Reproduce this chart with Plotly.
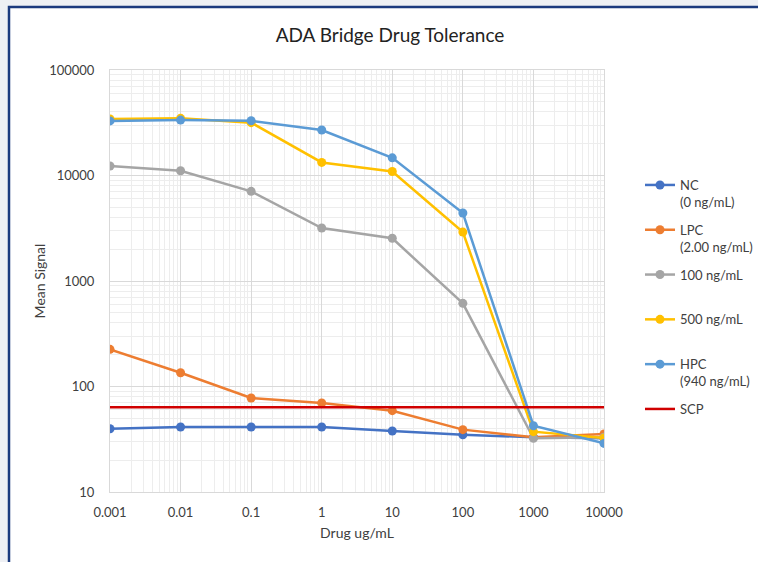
import plotly.graph_objects as go

# Drug concentrations (ug/mL)
drug_conc = [0.001, 0.01, 0.1, 1, 10, 100, 1000, 10000]

# Mean signal per positive-control level
nc_signal = [39.8, 41.3, 41.3, 41.3, 37.9, 34.9, 33.0, 32.3]
lpc_signal = [225, 135, 77.8, 69.8, 59, 39, 33, 35.5]
pc100_signal = [12300, 11100, 7080, 3180, 2540, 614, 32.3, 33]
pc500_signal = [34400, 34800, 31700, 13300, 10900, 2910, 37.3, 32.5]
hpc_signal = [32900, 33500, 33000, 27000, 14700, 4410, 42.5, 28.9]

# Screening cut point
scp_value = 63.5

series_names = ["NC<br>(0 ng/mL)", "LPC<br>(2.00 ng/mL)", "100 ng/mL<br> ",
                "500 ng/mL<br> ", "HPC<br>(940 ng/mL)"]
series_values = [nc_signal, lpc_signal, pc100_signal, pc500_signal, hpc_signal]
series_colors = ["#4472C4", "#ED7D31", "#A5A5A5", "#FFC000", "#5B9BD5"]

x_tickvals = [0.001, 0.01, 0.1, 1, 10, 100, 1000, 10000]
x_ticktext = ["0.001", "0.01", "0.1", "1", "10", "100", "1000", "10000"]
y_tickvals = [10, 100, 1000, 10000, 100000]
y_ticktext = ["10", "100", "1000", "10000", "100000"]

FONT = "Lato, 'Open Sans', sans-serif"
TEXT = "#404040"

fig = go.Figure()

for i, (name, vals, color) in enumerate(zip(series_names, series_values, series_colors)):
    fig.add_trace(go.Scatter(
        x=drug_conc, y=vals, name=name, mode="lines+markers",
        line=dict(color=color, width=2.5),
        marker=dict(color=color, size=9),
        legendgroup=f"g{i}",
    ))

fig.add_trace(go.Scatter(
    x=[drug_conc[0], drug_conc[-1]], y=[scp_value, scp_value],
    name="SCP<br> ", mode="lines",
    line=dict(color="#D00000", width=2.5),
    legendgroup="g5",
))

# Outer frame: white panel with a dark navy edge on a pale backdrop
fig.add_shape(type="rect", xref="paper", yref="paper",
              x0=-101 / 494, x1=1.5, y0=-0.3, y1=1 + 63 / 422,
              fillcolor="white", line=dict(color="#1B3A7E", width=2.5),
              layer="below")

fig.update_layout(
    width=758, height=562,
    margin=dict(l=110, r=154, t=70, b=70, autoexpand=False),
    paper_bgcolor="#EEF0F4",
    plot_bgcolor="white",
    font=dict(family=FONT, color=TEXT, size=12),
    title=dict(text="ADA Bridge Drug Tolerance", x=390 / 758, xanchor="center",
               y=1 - 35 / 562, yanchor="middle",
               font=dict(size=19, color="#222222", family=FONT)),
    showlegend=True,
    legend=dict(xref="container", yref="container",
                x=640 / 758, y=1 - 170 / 562, xanchor="left", yanchor="top",
                valign="top", tracegroupgap=8,
                font=dict(size=13, color=TEXT, family=FONT),
                bgcolor="rgba(0,0,0,0)"),
    xaxis=dict(
        type="log", range=[-3, 4],
        tickvals=x_tickvals, ticktext=x_ticktext,
        showgrid=True, gridcolor="#D9D9D9", gridwidth=1,
        minor=dict(dtick="D1", showgrid=True, gridcolor="#EDEDED", gridwidth=1),
        showline=True, linecolor="#D9D9D9", linewidth=1, mirror=True,
        ticks="", zeroline=False, ticklabelstandoff=8,
        tickfont=dict(size=13, color=TEXT),
        title=dict(text="Drug ug/mL", font=dict(size=14, color=TEXT), standoff=9),
    ),
    yaxis=dict(
        type="log", range=[1, 5],
        tickvals=y_tickvals, ticktext=y_ticktext,
        showgrid=True, gridcolor="#D9D9D9", gridwidth=1,
        minor=dict(dtick="D1", showgrid=True, gridcolor="#EDEDED", gridwidth=1),
        showline=True, linecolor="#D9D9D9", linewidth=1, mirror=True,
        ticks="", zeroline=False, ticklabelstandoff=12,
        tickfont=dict(size=13, color=TEXT),
        title=dict(text="Mean Signal", font=dict(size=14, color=TEXT), standoff=0),
    ),
)

fig.write_html("out.html")
